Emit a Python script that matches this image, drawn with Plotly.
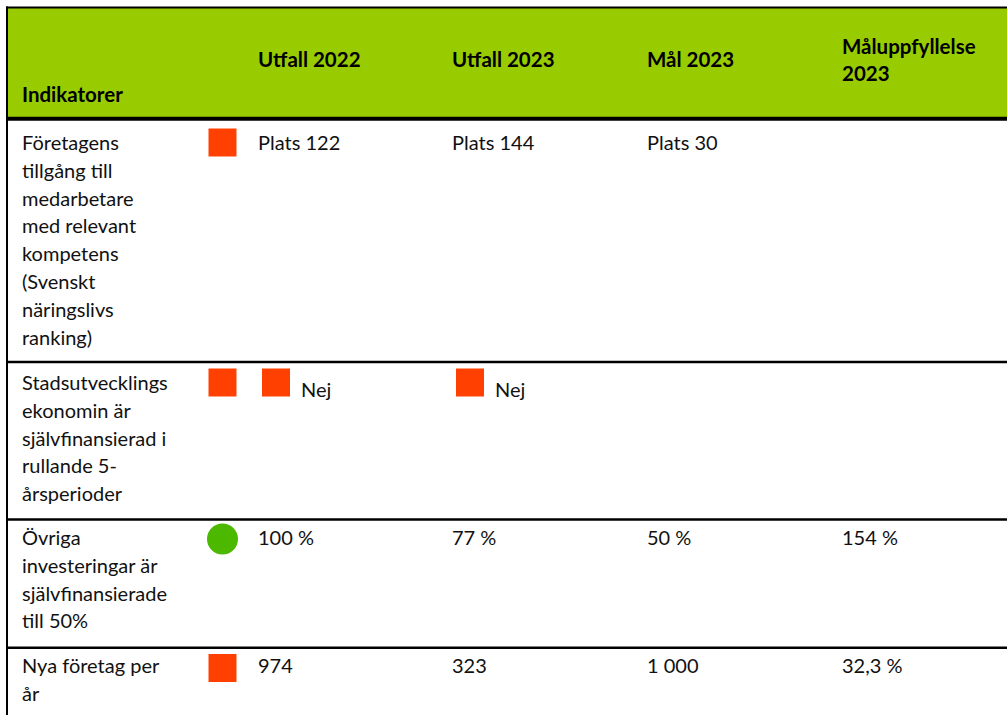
import plotly.graph_objects as go

# ---------------- data ----------------
headers = ["Indikatorer", "Utfall 2022", "Utfall 2023", "Mål 2023", "Måluppfyllelse<br>2023"]
indicators = [
    "Företagens<br>tillgång till<br>medarbetare<br>med relevant<br>kompetens<br>(Svenskt<br>näringslivs<br>ranking)",
    "Stadsutvecklings<br>ekonomin är<br>självfinansierad i<br>rullande 5-<br>årsperioder",
    "Övriga<br>investeringar är<br>självfinansierade<br>till 50%",
    "Nya företag per<br>år",
]
utfall_2022 = ["Plats 122", "Nej", "100 %", "974"]
utfall_2023 = ["Plats 144", "Nej", "77 %", "323"]
mal_2023 = ["Plats 30", "", "50 %", "1 000"]
maluppfyllelse_2023 = ["", "", "154 %", "32,3 %"]
status = ["red", "red", "green", "red"]
status_2022 = [None, "red", None, None]
status_2023 = [None, "red", None, None]

# ---------------- layout / style ----------------
W, H = 1007, 715
GREEN_HEAD = "#99cc00"
RED = "#ff4000"
GREEN = "#4cb800"
FONT = "Lato, 'Open Sans', sans-serif"
FS = 20
FS_HEAD = 20.5
LH = 27.8

col_x = [22, 258, 452, 647, 842]
head_y = [97, 62, 62, 62, 49]
row_first_y = [145, 385, 540, 668]
row_lines = [362, 519.5, 647.7]
status_x = 222.5
status_y = [142.5, 382.5, 539, 668]
value_status_y = 382.5
text_shift_after_icon = 43

fig = go.Figure()

# header background and borders
shapes = [
    dict(type="rect", x0=7, x1=W, y0=7.5, y1=117, fillcolor=GREEN_HEAD, line_width=0, layer="below"),
    dict(type="line", x0=6, x1=W, y0=7.5, y1=7.5, line=dict(color="black", width=2)),
    dict(type="line", x0=7, x1=7, y0=6.5, y1=H, line=dict(color="black", width=2)),
    dict(type="line", x0=6, x1=W, y0=118.7, y1=118.7, line=dict(color="black", width=4)),
]
for y in row_lines:
    shapes.append(dict(type="line", x0=6, x1=W, y0=y, y1=y, line=dict(color="black", width=2.5)))

# header texts
hx, hy, ht = [], [], []
for i, h in enumerate(headers):
    for j, part in enumerate(h.split("<br>")):
        hx.append(col_x[i]); hy.append(head_y[i] + j * 27); ht.append(part)
fig.add_trace(go.Scatter(x=hx, y=hy, text=ht, mode="text", textposition="middle right",
                         textfont=dict(family=FONT, size=FS_HEAD, color="black", weight="bold"),
                         hoverinfo="skip"))

# body texts
bx, by, bt = [], [], []
for r, lab in enumerate(indicators):
    for j, part in enumerate(lab.split("<br>")):
        bx.append(col_x[0]); by.append(row_first_y[r] + j * LH); bt.append(part)
value_cols = [utfall_2022, utfall_2023, mal_2023, maluppfyllelse_2023]
value_status = [status_2022, status_2023, [None] * 4, [None] * 4]
for c, col in enumerate(value_cols):
    for r, v in enumerate(col):
        if not v:
            continue
        x = col_x[c + 1]
        y = row_first_y[r]
        if value_status[c][r]:
            x += text_shift_after_icon
            y += 7
        bx.append(x); by.append(y); bt.append(v)
fig.add_trace(go.Scatter(x=bx, y=by, text=bt, mode="text", textposition="middle right",
                         textfont=dict(family=FONT, size=FS, color="#111111"), hoverinfo="skip"))

# status markers
colmap = {"red": RED, "green": GREEN}
symmap = {"red": "square", "green": "circle"}
mx, my, mc, ms, msz = [], [], [], [], []
for r, s in enumerate(status):
    mx.append(status_x); my.append(status_y[r]); mc.append(colmap[s]); ms.append(symmap[s])
    msz.append(28 if s == "red" else 31)
for c, col in enumerate([status_2022, status_2023]):
    for r, s in enumerate(col):
        if s:
            mx.append(col_x[c + 1] + 18); my.append(value_status_y); mc.append(colmap[s])
            ms.append(symmap[s]); msz.append(28)
fig.add_trace(go.Scatter(x=mx, y=my, mode="markers",
                         marker=dict(color=mc, symbol=ms, size=msz, opacity=1, line=dict(width=0)),
                         hoverinfo="skip"))

fig.update_layout(
    width=W, height=H, margin=dict(l=0, r=0, t=0, b=0),
    paper_bgcolor="white", plot_bgcolor="white", showlegend=False,
    shapes=shapes,
    xaxis=dict(range=[0, W], visible=False, fixedrange=True),
    yaxis=dict(range=[H, 0], visible=False, fixedrange=True),
)
fig.write_html("out.html", config={"displayModeBar": False},
               post_script="document.body.style.margin='0';")
